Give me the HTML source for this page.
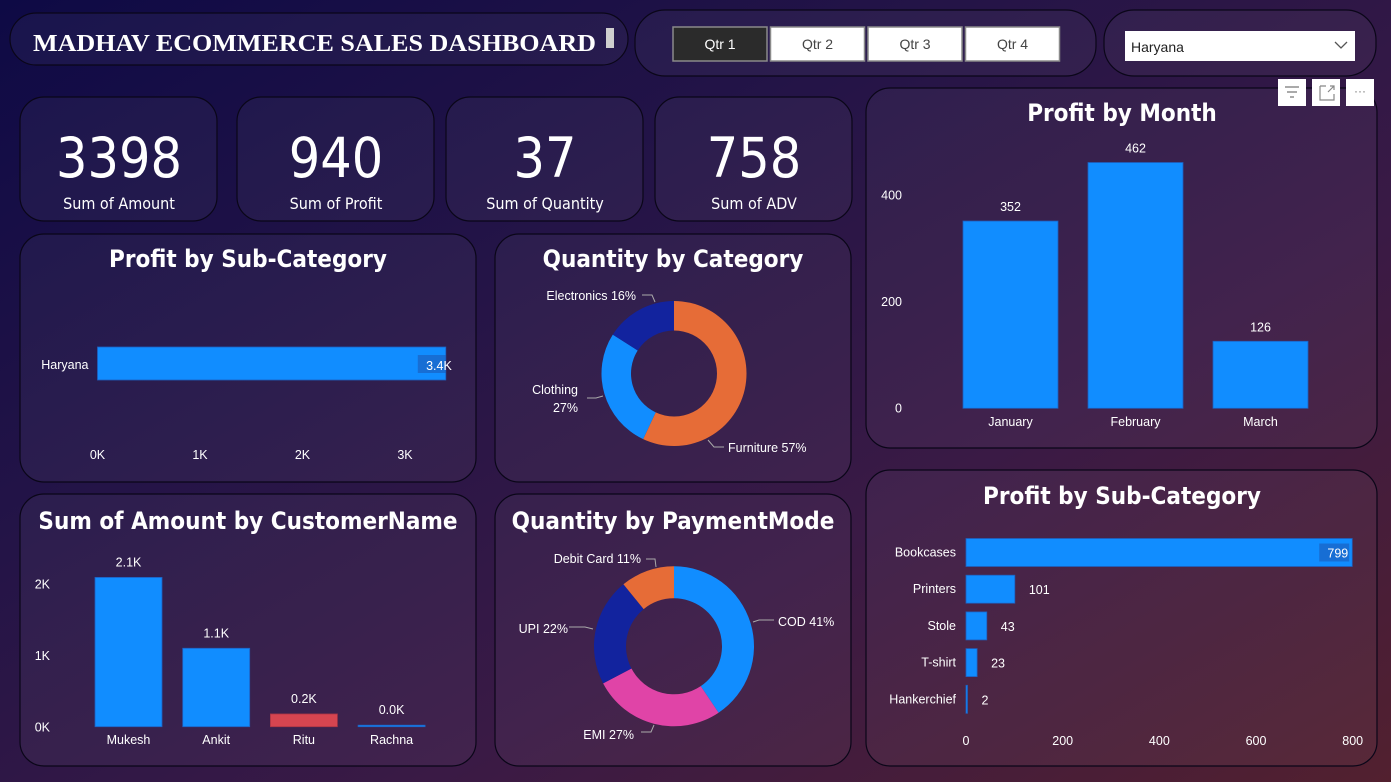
<!DOCTYPE html>
<html><head><meta charset="utf-8">
<style>
html,body{margin:0;padding:0;width:1391px;height:782px;overflow:hidden;}
body{background:linear-gradient(150deg,#0e0a45 0%,#241447 35%,#3a1a45 65%,#52202f 100%);}
svg{position:absolute;left:0;top:0;fill:#fff;}
text{font-family:"Liberation Sans",sans-serif;}
.t{font-family:"DejaVu Sans Condensed","DejaVu Sans",sans-serif;font-weight:bold;font-size:24px;text-anchor:middle;}
.kv{font-family:"DejaVu Sans Condensed","DejaVu Sans",sans-serif;font-size:55px;text-anchor:middle;}
.kl{font-family:"DejaVu Sans Condensed","DejaVu Sans",sans-serif;font-size:16px;text-anchor:middle;}
.ax{font-size:12.5px;}
.lb{font-size:12.5px;}
</style></head>
<body>
<svg id="s" width="1391" height="782" xmlns="http://www.w3.org/2000/svg">
<g id="cards"></g>
<g id="content"></g>
</svg>
<script>
// ---- data ----
const kpiValues=[3398,940,37,758];
const kpiLabels=["Sum of Amount","Sum of Profit","Sum of Quantity","Sum of ADV"];
const stateCats=["Haryana"];
const stateProfit=[3398];
const stateTicks=[0,1000,2000,3000];
const catNames=["Furniture","Clothing","Electronics"];
const catPct=[57,27,16];
const monthCats=["January","February","March"];
const monthProfit=[352,462,126];
const monthTicks=[0,200,400];
const custNames=["Mukesh","Ankit","Ritu","Rachna"];
const custAmount=[2088,1097,178,20];
const custLabels=["2.1K","1.1K","0.2K","0.0K"];
const custTicks=[0,1000,2000];
const payNames=["COD","EMI","UPI","Debit Card"];
const payPct=[41,27,22,11];
const subCats=["Bookcases","Printers","Stole","T-shirt","Hankerchief"];
const subProfit=[799,101,43,23,2];
const subTicks=[0,200,400,600,800];

const NS="http://www.w3.org/2000/svg";
const C=document.getElementById('content'), K=document.getElementById('cards');
function el(tag,attrs,parent,txt){const e=document.createElementNS(NS,tag);for(const k in attrs)e.setAttribute(k,attrs[k]);if(txt!==undefined)e.textContent=txt;(parent||C).appendChild(e);return e;}

function card(x,y,w,h,r,name){
  const e=el('rect',{x:x,y:y,width:w,height:h,rx:r,fill:'rgba(255,255,255,0.045)',stroke:'#0a0618','stroke-width':1.2},K);
  
  
}
card(10,13,618,52,26,'title-card');
card(635,10,461,66,30,'quarter-card');
card(1104,10,272,66,30,'state-slicer-card');
const kx=[20,237,446,655];
kx.forEach((x,i)=>card(x,97,197,124,24,'kpi-card-'+(i+1)));
card(20,234,456,248,24,'profit-state-card');
card(495,234,356,248,24,'quantity-category-card');
card(866,88,511,360,24,'profit-month-card');
card(20,494,456,272,24,'amount-customer-card');
card(495,494,356,272,24,'quantity-payment-card');
card(866,470,511,296,24,'profit-subcategory-card');

let t=el('text',{x:33,y:51,'font-weight':'bold','font-size':24,textLength:563,lengthAdjust:'spacingAndGlyphs',style:'font-family:"Liberation Serif",serif'},C,'MADHAV ECOMMERCE SALES DASHBOARD');


let r=el('rect',{x:606,y:28,width:8,height:20,fill:'#cfcfcf'});


["Qtr 1","Qtr 2","Qtr 3","Qtr 4"].forEach((q,i)=>{
  const x=673+i*97.5;
  const b=el('rect',{x:x,y:27,width:94,height:34,fill:i==0?'#2b2b2b':'#fff',stroke:'#8a8a8a','stroke-width':1.5});
  
  
  el('text',{x:x+47,y:49,'text-anchor':'middle','font-size':14,fill:i==0?'#fff':'#444'},C,q);
});
let dd=el('rect',{x:1125,y:31,width:230,height:30,fill:'#fff'});


el('text',{x:1131,y:52,'font-size':14,fill:'#222'},C,'Haryana');
el('path',{d:'M1335,42 l6,6 l6,-6',fill:'none',stroke:'#555','stroke-width':1.3});
[[1278,'filter-icon'],[1312,'focus-mode-icon'],[1346,'more-options-icon']].forEach(([x,n])=>{
  const b=el('rect',{x:x,y:79,width:28,height:27,fill:'#fff'});
  
  
});
el('path',{d:'M1285,87 h14 M1287,92 h10 M1290,97 h4',fill:'none',stroke:'#777','stroke-width':1.2});
el('path',{d:'M1320,86 h6 M1320,86 v14 h14 v-6 M1328,92 l6,-6 M1330,86 h4 v4',fill:'none',stroke:'#888','stroke-width':1.2});
el('text',{x:1360,y:95,'text-anchor':'middle','font-size':12,fill:'#777'},C,'···');

kx.forEach((x,i)=>{
  const v=el('text',{x:x+99,y:177,class:'kv'},C,String(kpiValues[i]));
  
  
  el('text',{x:x+99,y:209,class:'kl'},C,kpiLabels[i]);
});

[[248,267,'Profit by Sub-Category'],[673,267,'Quantity by Category'],[1122,121,'Profit by Month'],[248,529,'Sum of Amount by CustomerName'],[673,529,'Quantity by PaymentMode'],[1122,504,'Profit by Sub-Category']].forEach(([x,y,s])=>{
  const e=el('text',{x:x,y:y,class:'t'},C,s);
  
  
});

(function(){
  const x0=97.5, sc=0.1025;
  stateTicks.forEach(v=>el('text',{x:x0+v*sc,y:459,class:'ax','text-anchor':'middle'},C,(v/1000)+'K'));
  stateProfit.forEach((v,i)=>{
    const b=el('rect',{x:x0,y:347,width:v*sc,height:33,fill:'#118DFF',stroke:'#1f5fbf','stroke-width':0.8});
    
    
    el('text',{x:x0-9,y:369,class:'lb','text-anchor':'end'},C,stateCats[i]);
    el('rect',{x:x0+v*sc-28,y:355,width:28,height:18,fill:'rgba(30,80,170,0.5)'});
    el('text',{x:x0+v*sc+6,y:370,class:'lb','text-anchor':'end'},C,(v/1000).toFixed(1)+'K');
  });
})();

function arc(cx,cy,r0,r1,a0,a1){
  const p=(r,a)=>[cx+r*Math.sin(a),cy-r*Math.cos(a)];
  const L=(a1-a0)>Math.PI?1:0;
  const [x1,y1]=p(r1,a0),[x2,y2]=p(r1,a1),[x3,y3]=p(r0,a1),[x4,y4]=p(r0,a0);
  return `M${x1},${y1} A${r1},${r1} 0 ${L} 1 ${x2},${y2} L${x3},${y3} A${r0},${r0} 0 ${L} 0 ${x4},${y4} Z`;
}
function donut(cx,cy,r0,r1,vals,names,cols,prefix){
  const tot=vals.reduce((a,b)=>a+b,0);let a=0;
  vals.forEach((v,i)=>{
    const a1=a+v/tot*2*Math.PI;
    const s=el('path',{d:arc(cx,cy,r0,r1,a,a1),fill:cols[i]});
    
    
    a=a1;
  });
}
donut(674,373.5,43,72.5,catPct,catNames,['#E66C37','#118DFF','#12239E'],'category');
el('path',{d:'M708,440 l6,7 h10 M603,396 l-7,2 h-9 M655,302 l-3,-7 h-10',fill:'none',stroke:'#aaa','stroke-width':1});
el('text',{x:728,y:452,class:'lb'},C,catNames[0]+' '+catPct[0]+'%');
el('text',{x:578,y:394,class:'lb','text-anchor':'end'},C,catNames[1]);
el('text',{x:578,y:412,class:'lb','text-anchor':'end'},C,catPct[1]+'%');
el('text',{x:636,y:300,class:'lb','text-anchor':'end'},C,catNames[2]+' '+catPct[2]+'%');

donut(674,646.3,48,80,payPct,payNames,['#118DFF','#E044A7','#12239E','#E66C37'],'payment');
el('path',{d:'M753,622 l6,-2 h15 M593,629 l-8,-2 h-16 M656,567 l-1,-8 h-9 M654,725 l-3,7 h-10',fill:'none',stroke:'#aaa','stroke-width':1});
el('text',{x:778,y:626,class:'lb'},C,payNames[0]+' '+payPct[0]+'%');
el('text',{x:634,y:739,class:'lb','text-anchor':'end'},C,payNames[1]+' '+payPct[1]+'%');
el('text',{x:568,y:633,class:'lb','text-anchor':'end'},C,payNames[2]+' '+payPct[2]+'%');
el('text',{x:641,y:563,class:'lb','text-anchor':'end'},C,payNames[3]+' '+payPct[3]+'%');

(function(){
  const y0=408.3, sc=0.532, xs=[963,1088,1213], w=95;
  monthTicks.forEach(v=>el('text',{x:902,y:y0-v*sc+4,class:'ax','text-anchor':'end'},C,String(v)));
  monthProfit.forEach((v,i)=>{
    const h=v*sc;
    const b=el('rect',{x:xs[i],y:y0-h,width:w,height:h,fill:'#118DFF',stroke:'#1f5fbf','stroke-width':0.8});
    
    
    el('text',{x:xs[i]+w/2,y:y0-h-10,class:'lb','text-anchor':'middle'},C,String(v));
    el('text',{x:xs[i]+w/2,y:426,class:'ax','text-anchor':'middle'},C,monthCats[i]);
  });
})();

(function(){
  const y0=726.7, sc=0.0715, w=67, step=87.7, x0=95;
  custTicks.forEach(v=>el('text',{x:50,y:y0-v*sc+5,class:'ax','text-anchor':'end'},C,(v/1000)+'K'));
  custAmount.forEach((v,i)=>{
    const h=Math.max(v*sc,1.5), x=x0+i*step;
    const b=el('rect',{x:x,y:y0-h,width:w,height:h,fill:i==2?'#D64550':'#118DFF',stroke:i==2?'#a83545':'#1f5fbf','stroke-width':0.8});
    
    
    el('text',{x:x+w/2,y:y0-h-11,class:'lb','text-anchor':'middle'},C,custLabels[i]);
    el('text',{x:x+w/2,y:744,class:'ax','text-anchor':'middle'},C,custNames[i]);
  });
})();

(function(){
  const x0=966, sc=0.4834, y0=538.5, step=36.7, h=28;
  subTicks.forEach(v=>el('text',{x:x0+v*sc,y:745,class:'ax','text-anchor':'middle'},C,String(v)));
  subProfit.forEach((v,i)=>{
    const y=y0+i*step, w=Math.max(v*sc,1.5);
    const b=el('rect',{x:x0,y:y,width:w,height:h,fill:'#118DFF',stroke:'#1f5fbf','stroke-width':0.8});
    
    
    el('text',{x:956,y:y+18,class:'ax','text-anchor':'end'},C,subCats[i]);
    if(w>60){
      el('rect',{x:x0+w-33,y:y+5,width:30,height:18,fill:'rgba(30,80,170,0.5)'});
      el('text',{x:x0+w-4,y:y+19,class:'lb','text-anchor':'end'},C,String(v));
    } else el('text',{x:x0+w+14,y:y+19,class:'lb'},C,String(v));
  });
})();
</script>
</body></html>
